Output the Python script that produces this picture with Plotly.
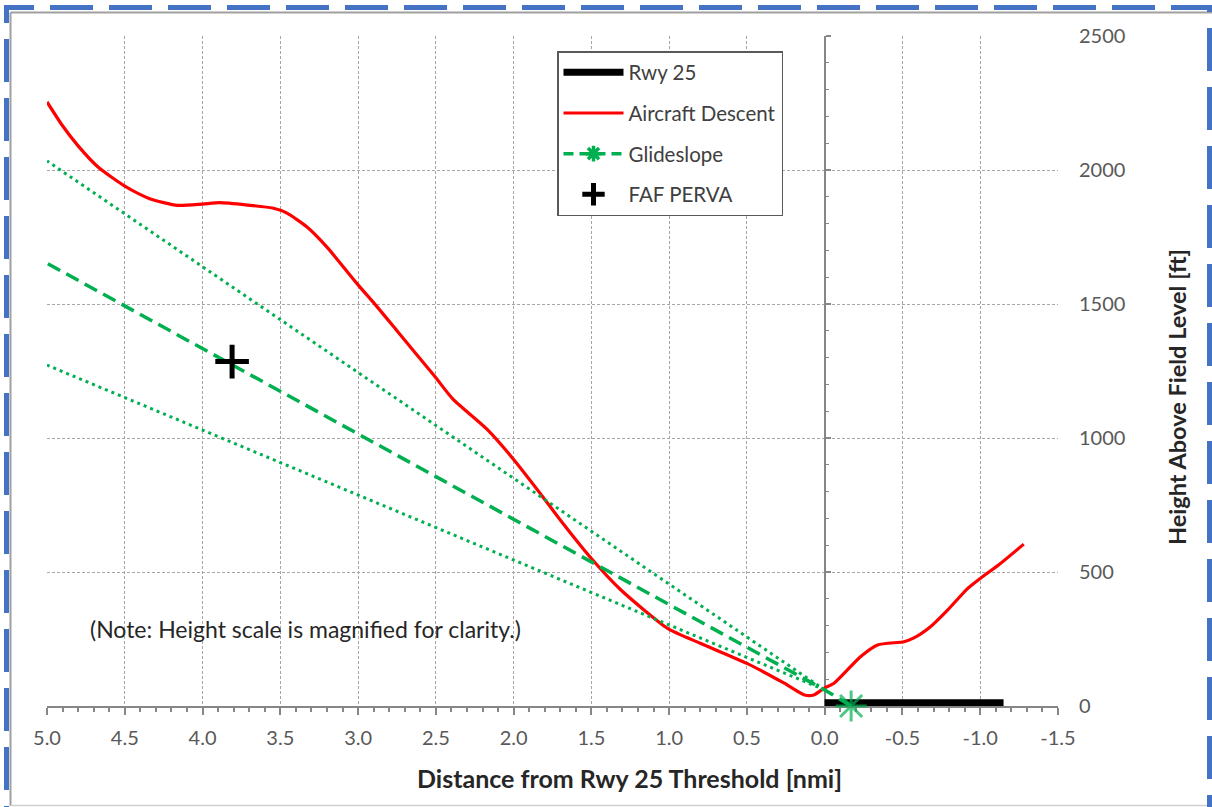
import plotly.graph_objects as go

# ---------------- data ----------------
descent_x = [5.00, 4.90, 4.80, 4.67, 4.50, 4.34, 4.16, 4.00, 3.89, 3.71, 3.55, 3.46, 3.33, 3.20,
             3.01, 2.90, 2.75, 2.51, 2.39, 2.17, 2.00, 1.83, 1.70, 1.51, 1.31, 1.01, 0.80, 0.50,
             0.26, 0.13, 0.07, 0.00, -0.06, -0.23, -0.34, -0.51, -0.57, -0.68, -0.79, -0.92,
             -1.00, -1.13, -1.28]
descent_y = [2254, 2165, 2090, 2010, 1940, 1893, 1868, 1873, 1878, 1869, 1858, 1840, 1788, 1712,
             1578, 1505, 1400, 1232, 1145, 1032, 920, 794, 694, 557, 433, 290, 234, 159,
             85, 41, 41, 68, 85, 184, 228, 240, 253, 296, 358, 439,
             476, 532, 604]

rwy_x = [0.0, -1.15]
rwy_y = [12, 12]

gs_x = [-0.17, 0.0, 5.0]
gs_y = [0, 60, 1652]
gs_marker_sizes = [26, 0, 0]

gs_upper_x = [0.0, 5.0]
gs_upper_y = [60, 2034]
gs_lower_x = [0.0, 5.0]
gs_lower_y = [60, 1272]

faf_x = [3.81]
faf_y = [1285]

x_tickvals = [5.0, 4.5, 4.0, 3.5, 3.0, 2.5, 2.0, 1.5, 1.0, 0.5, 0.0, -0.5, -1.0, -1.5]
x_ticktext = ["5.0", "4.5", "4.0", "3.5", "3.0", "2.5", "2.0", "1.5", "1.0", "0.5", "0.0",
              "-0.5", "-1.0", "-1.5"]
y_tickvals = [0, 500, 1000, 1500, 2000, 2500]
y_ticktext = ["0", "500", "1000", "1500", "2000", "2500"]

# ---------------- layout constants ----------------
W, H = 1212, 807
L, R, T, B = 47, 1058, 36, 706  # plot area pixels
pw, ph = R - L, B - T


def px(x):
    return (x - L) / pw


def py(y):
    return (B - y) / ph


FONT = "Lato"
GREEN = "#00B050"
GRID = "#A6A6A6"
AXIS = "#868686"

fig = go.Figure()

fig.add_trace(go.Scatter(x=rwy_x, y=rwy_y, mode="lines", name="Rwy 25",
                         line=dict(color="black", width=7), legendgroup="a"))
fig.add_trace(go.Scatter(x=descent_x, y=descent_y, mode="lines", name="Aircraft Descent",
                         line=dict(color="#FF0000", width=3.2, shape="spline", smoothing=0.6),
                         legendgroup="b"))
fig.add_trace(go.Scatter(x=gs_upper_x, y=gs_upper_y, mode="lines", showlegend=False,
                         line=dict(color=GREEN, width=3, dash="3px,4px")))
fig.add_trace(go.Scatter(x=gs_lower_x, y=gs_lower_y, mode="lines", showlegend=False,
                         line=dict(color=GREEN, width=3, dash="3px,4px")))
fig.add_trace(go.Scatter(x=gs_x, y=gs_y, mode="lines+markers", name="Glideslope",
                         line=dict(color=GREEN, width=3.5, dash="14px,7px"),
                         marker=dict(symbol="asterisk-open", size=gs_marker_sizes, color=GREEN,
                                     line=dict(color=GREEN, width=3)),
                         cliponaxis=False, legendgroup="c", showlegend=False))
# legend entry for the glideslope (line + asterisk sample)
fig.add_trace(go.Scatter(x=[None], y=[None], mode="lines+markers", name="Glideslope",
                         line=dict(color=GREEN, width=3.5, dash="10px,6px"),
                         marker=dict(symbol="asterisk-open", size=13, color=GREEN,
                                     line=dict(color=GREEN, width=3.5)),
                         legendgroup="c", hoverinfo="skip"))
fig.add_trace(go.Scatter(x=faf_x, y=faf_y, mode="markers", name="FAF PERVA",
                         marker=dict(symbol="cross-thin", size=24, color="black",
                                     line=dict(color="black", width=5)),
                         legendgroup="d"))
# dummy trace for y-axis drawn at x = 0
fig.add_trace(go.Scatter(x=[None], y=[None], yaxis="y2", showlegend=False, hoverinfo="skip"))

zero_pos = (5.0 - 0.0) / (5.0 - (-1.5))

fig.update_layout(
    template="none",
    width=W, height=H,
    margin=dict(l=L, r=W - R, t=T, b=H - B, autoexpand=False),
    paper_bgcolor="white", plot_bgcolor="white",
    font=dict(family=FONT, size=20, color="#595959"),
    showlegend=True,
    xaxis=dict(range=[5.0, -1.5], tickvals=x_tickvals, ticktext=x_ticktext,
               showgrid=True, gridcolor=GRID, griddash="3px,2px", gridwidth=1,
               zeroline=False, showline=True, linecolor=AXIS, linewidth=2,
               ticks="outside", ticklen=7, tickwidth=2, tickcolor=AXIS,
               minor=dict(dtick=0.1, tick0=0, ticks="outside", ticklen=4, tickcolor=AXIS,
                          tickwidth=1.5, showgrid=False),
               ticklabelstandoff=6, automargin=False, layer="below traces",
               tickfont=dict(family=FONT, size=20, color="#595959")),
    yaxis=dict(range=[0, 2500], tickvals=y_tickvals, ticktext=y_ticktext, side="right",
               showgrid=True, gridcolor=GRID, griddash="3px,2px", gridwidth=1,
               zeroline=False, showline=False, ticks="", ticklabelstandoff=20,
               automargin=False, layer="below traces",
               tickfont=dict(family=FONT, size=20, color="#595959")),
    yaxis2=dict(range=[0, 2500], overlaying="y", anchor="free", position=zero_pos,
                side="right", showgrid=False, zeroline=False, showline=True,
                linecolor=AXIS, linewidth=2, ticks="outside", ticklen=5, tickwidth=1.5,
                tickcolor=AXIS, tickvals=y_tickvals, showticklabels=False,
                minor=dict(dtick=100, ticks="outside", ticklen=3, tickcolor=AXIS, tickwidth=1),
                automargin=False, layer="below traces"),
    legend=dict(x=px(557), y=py(51), xanchor="left", yanchor="top",
                bgcolor="white", bordercolor="#595959", borderwidth=1.5,
                font=dict(family=FONT, size=20.5, color="#404040"),
                traceorder="grouped", tracegroupgap=11, itemwidth=60,
                itemclick=False),
)

fig.add_annotation(x=px(629), y=py(778), xref="paper", yref="paper",
                   text="<b>Distance from Rwy 25 Threshold [nmi]</b>", showarrow=False,
                   xanchor="center", yanchor="middle",
                   font=dict(family=FONT, size=25, color="#262626"))
fig.add_annotation(x=px(1177), y=py(397), xref="paper", yref="paper",
                   text="<b>Height Above Field Level [ft]</b>", showarrow=False, textangle=-90,
                   xanchor="center", yanchor="middle",
                   font=dict(family=FONT, size=23.5, color="#262626"))
fig.add_annotation(x=px(305), y=py(629), xref="paper", yref="paper",
                   text="(Note: Height scale is magnified for clarity.)", showarrow=False,
                   xanchor="center", yanchor="middle",
                   font=dict(family=FONT, size=23, color="#262626"))

# outer frame: gray chart border + blue dashed border
fig.add_shape(type="line", xref="paper", yref="paper", x0=px(10.5), x1=px(10.5),
              y0=py(12.5), y1=py(806), line=dict(color="#A0A0A0", width=2))
fig.add_shape(type="line", xref="paper", yref="paper", x0=px(10.5), x1=px(1212),
              y0=py(12.5), y1=py(12.5), line=dict(color="#A0A0A0", width=2))
fig.add_shape(type="line", xref="paper", yref="paper", x0=px(10.5), x1=px(1212),
              y0=py(805.5), y1=py(805.5), line=dict(color="#D0D0D0", width=1.5))
fig.add_shape(type="rect", xref="paper", yref="paper", x0=px(6.5), x1=px(1209.5),
              y0=py(815), y1=py(7.5), line=dict(color="#4472C4", width=5, dash="43px,16px"))

fig.write_html("out.html", config={"displayModeBar": False},
               post_script="document.body.style.margin='0';")
